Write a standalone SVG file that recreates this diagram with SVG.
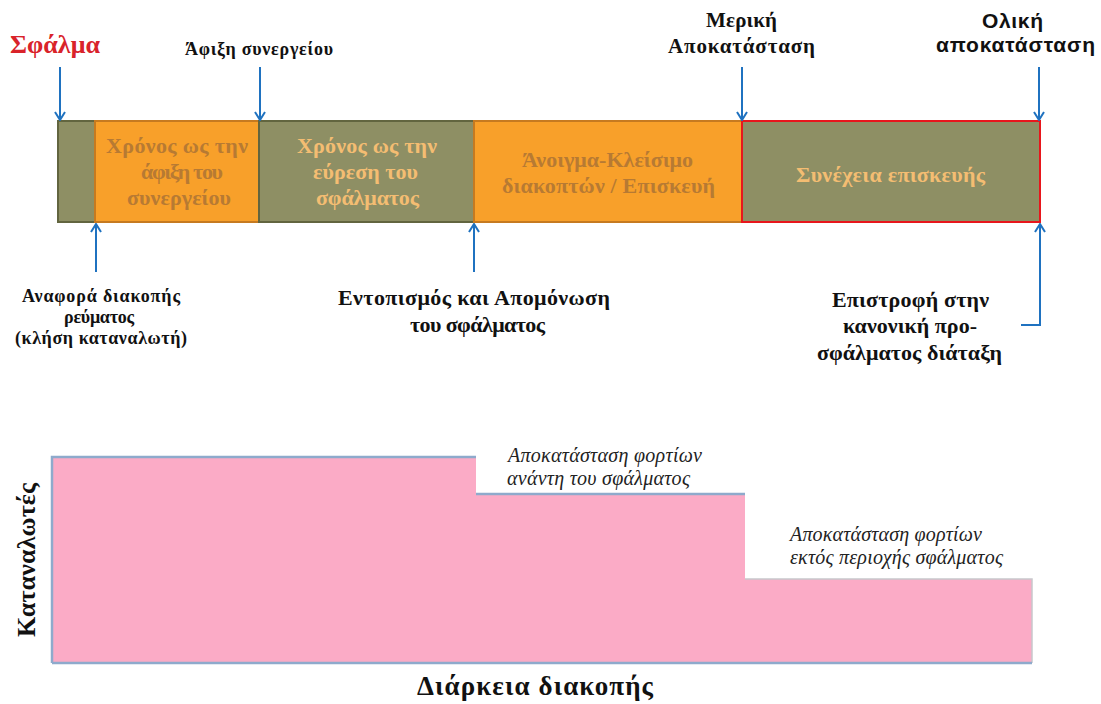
<svg xmlns="http://www.w3.org/2000/svg" width="1101" height="704" viewBox="0 0 1101 704">
  <style>
    .lbl { font-family: "Liberation Serif", "Times New Roman", serif; font-weight: bold; fill: #111; }
    .s18 { font-size: 18px; }
    .s21 { font-size: 21px; }
    .s22 { font-size: 22px; }
    .box-olive { fill: #8e8f64; stroke: #62653f; stroke-width: 2; }
    .box-orange { fill: #f8a02a; stroke: #c67a20; stroke-width: 2; }
    .txt-on-olive { font-family: "Liberation Serif", serif; font-weight: bold; font-size: 22px; fill: #f4bd72; }
    .txt-on-orange { font-family: "Liberation Serif", serif; font-weight: bold; font-size: 22px; fill: #b77a33; }
    .arrow { fill: none; stroke: #1f72c0; stroke-width: 2; marker-end: url(#head); }
    .note { font-family: "Liberation Serif", serif; font-style: italic; font-size: 20px; fill: #222; }
    .axis { font-family: "Liberation Serif", serif; font-weight: bold; fill: #111; }
    .sans { font-family: "Liberation Sans", Arial, sans-serif; font-weight: bold; font-size: 21px; fill: #111; }
  </style>
  <defs>
    <marker id="head" viewBox="0 0 10 12" refX="9" refY="6" markerWidth="10" markerHeight="12" markerUnits="userSpaceOnUse" orient="auto">
      <path d="M1,1 L9,6 L1,11" fill="none" stroke="#1f72c0" stroke-width="2"/>
    </marker>
  </defs>

  <rect width="1101" height="704" fill="#ffffff"/>

  <!-- Timeline bar segments -->
  <g id="seg-start">
    <rect class="box-olive" x="58" y="121" width="37" height="101"/>
  </g>
  <g id="seg-arrival">
    <rect class="box-orange" x="95" y="121" width="164" height="101"/>
    <text class="txt-on-orange" x="106" y="153" textLength="142" lengthAdjust="spacing">Χρόνος ως την</text>
    <text class="txt-on-orange" x="141" y="179" textLength="82" lengthAdjust="spacing">άφιξη του</text>
    <text class="txt-on-orange" x="127" y="205" textLength="104" lengthAdjust="spacing">συνεργείου</text>
  </g>
  <g id="seg-locate">
    <rect class="box-olive" x="259" y="121" width="215" height="101"/>
    <text class="txt-on-olive" x="297" y="153" textLength="140" lengthAdjust="spacing">Χρόνος ως την</text>
    <text class="txt-on-olive" x="313" y="179" textLength="105" lengthAdjust="spacing">εύρεση του</text>
    <text class="txt-on-olive" x="316" y="205" textLength="103" lengthAdjust="spacing">σφάλματος</text>
  </g>
  <g id="seg-switching">
    <rect class="box-orange" x="474" y="121" width="268" height="101"/>
    <text class="txt-on-orange" x="522" y="167" textLength="171" lengthAdjust="spacing">Άνοιγμα-Κλείσιμο</text>
    <text class="txt-on-orange" x="502" y="193" textLength="213" lengthAdjust="spacing">διακοπτών / Επισκευή</text>
  </g>
  <g id="seg-repair">
    <rect x="742" y="121" width="298" height="101" fill="#8e8f64" stroke="#e8161c" stroke-width="2"/>
    <text class="txt-on-olive" x="796" y="182" textLength="189" lengthAdjust="spacing">Συνέχεια επισκευής</text>
  </g>

  <!-- Event labels -->
  <g id="lbl-fault">
    <text class="lbl" x="10" y="53" style="font-size:26px; fill:#d9232a" textLength="90" lengthAdjust="spacing">Σφάλμα</text>
  </g>
  <g id="lbl-crew">
    <text class="lbl s18" x="185" y="55" textLength="148" lengthAdjust="spacing">Άφιξη συνεργείου</text>
  </g>
  <g id="lbl-partial">
    <text class="lbl s21" x="706" y="27" textLength="71" lengthAdjust="spacing">Μερική</text>
    <text class="lbl s21" x="668" y="53" textLength="147" lengthAdjust="spacing">Αποκατάσταση</text>
  </g>
  <g id="lbl-total">
    <text class="sans" x="982" y="28" textLength="61" lengthAdjust="spacing">Ολική</text>
    <text class="sans" x="936" y="52" textLength="159" lengthAdjust="spacing">αποκατάσταση</text>
  </g>
  <g id="lbl-report">
    <text class="lbl s18" x="22" y="302" textLength="158" lengthAdjust="spacing">Αναφορά διακοπής</text>
    <text class="lbl s18" x="64" y="323" textLength="70" lengthAdjust="spacing">ρεύματος</text>
    <text class="lbl s18" x="15" y="344" textLength="172" lengthAdjust="spacing">(κλήση καταναλωτή)</text>
  </g>
  <g id="lbl-isolate">
    <text class="lbl s22" x="338" y="305" textLength="272" lengthAdjust="spacing">Εντοπισμός και Απομόνωση</text>
    <text class="lbl s22" x="410" y="332" textLength="135" lengthAdjust="spacing">του σφάλματος</text>
  </g>
  <g id="lbl-return">
    <text class="lbl s22" x="832" y="307" textLength="157" lengthAdjust="spacing">Επιστροφή στην</text>
    <text class="lbl s22" x="843" y="333" textLength="134" lengthAdjust="spacing">κανονική προ-</text>
    <text class="lbl s22" x="817" y="360" textLength="185" lengthAdjust="spacing">σφάλματος διάταξη</text>
  </g>

  <!-- Connectors -->
  <g id="connectors">
    <path class="arrow" d="M60,67 V120"/>
    <path class="arrow" d="M260,67 V120"/>
    <path class="arrow" d="M742,67 V120"/>
    <path class="arrow" d="M1039,67 V120"/>
    <path class="arrow" d="M96,272 V224"/>
    <path class="arrow" d="M474,272 V224"/>
    <path class="arrow" d="M1021,325 H1040 V224"/>
  </g>

  <!-- Customers-vs-duration step chart -->
  <g id="chart">
    <path d="M52,457 H476 V494 H745 V579 H1032 V663 H52 Z" fill="#fbabc6"/>
    <path d="M745,579 H1032 V663" fill="none" stroke="#c8c8cc" stroke-width="1.5"/>
    <path d="M52,663 V457 H476 M476,494 H745 M52,663 H1032" fill="none" stroke="#8eaacc" stroke-width="2.5"/>
    <text class="note" x="508" y="462" textLength="194" lengthAdjust="spacing">Αποκατάσταση  φορτίων</text>
    <text class="note" x="507" y="485" textLength="183" lengthAdjust="spacing">ανάντη του σφάλματος</text>
    <text class="note" x="790" y="541" textLength="192" lengthAdjust="spacing">Αποκατάσταση φορτίων</text>
    <text class="note" x="790" y="564" textLength="213" lengthAdjust="spacing">εκτός περιοχής σφάλματος</text>
  </g>
  <g id="axis-y">
    <text class="axis" transform="translate(35,637) rotate(-90)" style="font-size:26px" textLength="154" lengthAdjust="spacing">Καταναλωτές</text>
  </g>
  <g id="axis-x">
    <text class="axis" x="417" y="695" style="font-size:27px" textLength="236" lengthAdjust="spacing">Διάρκεια διακοπής</text>
  </g>
</svg>
